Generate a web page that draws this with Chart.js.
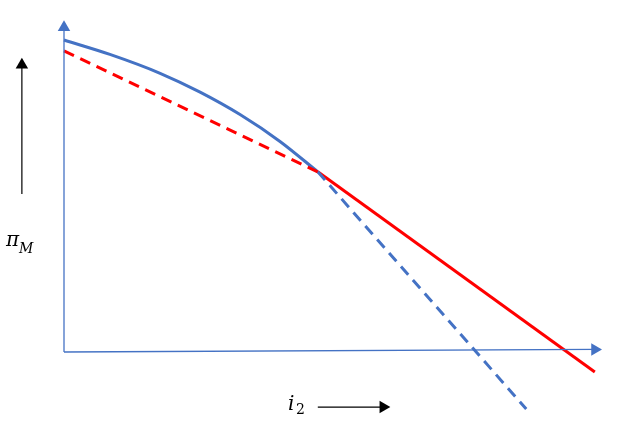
<!DOCTYPE html>
<html>
<head>
<meta charset="utf-8">
<script src="https://cdn.jsdelivr.net/npm/chart.js@4"></script>
<style>
  body { margin: 0; background: #fff; }
  canvas { display: block; }
</style>
</head>
<body>
<canvas id="main-chart" width="637" height="443"></canvas>
<script>
// values, in axis units (origin at the axes' corner)
const blueCurveX = [0, 0.85, 1.78, 2.52, 3.26, 4.00, 4.70];
const blueCurveY = [9.75, 9.30, 8.71, 8.12, 7.42, 6.58, 5.63];
const blueDashX = [4.70, 8.56];
const blueDashY = [5.63, -1.78];
const redDashX = [0, 4.70];
const redDashY = [9.41, 5.63];
const redSolidX = [4.70, 9.83];
const redSolidY = [5.63, -0.625];
const xAxisX = [0, 9.83];
const xAxisY = [0, 0.08];
const yAxisX = [0, 0];
const yAxisY = [0, 10.14];
const piArrowX = [-0.78, -0.78];
const piArrowY = [4.94, 8.97];
const iArrowX = [4.70, 5.91];
const iArrowY = [-1.72, -1.72];

const BLUE = '#4472C4';
const RED = '#FF0000';

function pts(xs, ys) {
  return xs.map((x, i) => ({ x: x, y: ys[i] }));
}

function arrowLine(xs, ys, color, width, rotation) {
  return {
    data: pts(xs, ys),
    borderColor: color,
    borderWidth: width,
    backgroundColor: color,
    pointStyle: 'triangle',
    pointRadius: [0, 7.2],
    pointBorderWidth: 0,
    pointRotation: rotation,
    tension: 0,
  };
}

const labelPlugin = {
  id: 'labels',
  afterDraw(chart) {
    const ctx = chart.ctx;
    ctx.save();
    ctx.fillStyle = '#000';
    ctx.textBaseline = 'alphabetic';
    ctx.font = 'italic 20px "DejaVu Serif"';
    ctx.fillText('\u03C0', 6, 246);
    ctx.font = 'italic 14px "DejaVu Serif"';
    ctx.fillText('M', 19, 253);
    ctx.font = 'italic 20px "DejaVu Serif"';
    ctx.fillText('i', 288, 410);
    ctx.font = '14px "DejaVu Serif"';
    ctx.fillText('2', 296, 414);
    ctx.restore();
  },
};

const ctx = document.getElementById('main-chart').getContext('2d');
new Chart(ctx, {
  type: 'line',
  data: {
    datasets: [
      arrowLine(xAxisX, xAxisY, BLUE, 1.3, 90),
      arrowLine(yAxisX, yAxisY, BLUE, 1.3, 0),
      arrowLine(piArrowX, piArrowY, '#000', 1.2, 0),
      arrowLine(iArrowX, iArrowY, '#000', 1.2, 90),
      {
        data: pts(redDashX, redDashY),
        borderColor: RED,
        borderWidth: 3,
        borderDash: [11, 7],
        pointRadius: 0,
      },
      {
        data: pts(blueDashX, blueDashY),
        borderColor: BLUE,
        borderWidth: 3,
        borderDash: [11, 7],
        pointRadius: 0,
      },
      {
        data: pts(redSolidX, redSolidY),
        borderColor: RED,
        borderWidth: 3,
        pointRadius: 0,
      },
      {
        data: pts(blueCurveX, blueCurveY),
        borderColor: BLUE,
        borderWidth: 3,
        pointRadius: 0,
        cubicInterpolationMode: 'monotone',
      },
    ],
  },
  options: {
    responsive: false,
    animation: false,
    layout: { padding: 0, autoPadding: false },
    scales: {
      x: { type: 'linear', display: false, min: -64 / 54, max: (637 - 64) / 54 },
      y: { type: 'linear', display: false, min: -(443 - 352) / 32, max: 352 / 32 },
    },
    plugins: {
      legend: { display: false },
      tooltip: { enabled: false },
    },
  },
  plugins: [labelPlugin],
});
</script>
</body>
</html>
